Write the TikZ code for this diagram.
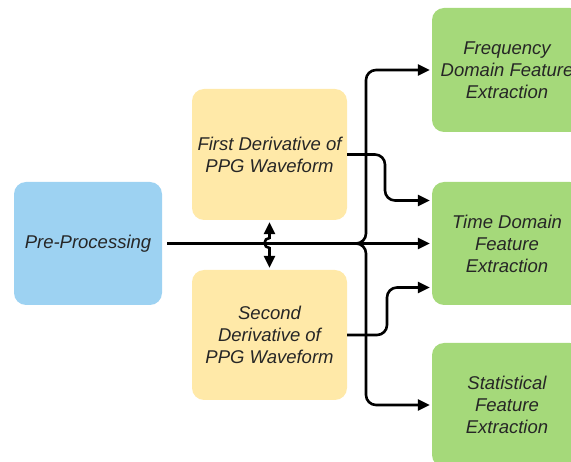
\documentclass[tikz,border=0pt]{standalone}
\usepackage{fontspec}
\setmainfont{Liberation Sans}
\usetikzlibrary{arrows.meta}
\definecolor{preblue}{HTML}{9DD2F2}
\definecolor{derivyellow}{HTML}{FFE9A8}
\definecolor{featgreen}{HTML}{A5D97A}
\begin{document}
\begin{tikzpicture}[x=1pt,y=-1pt,>={Triangle[length=12pt,width=11pt]},
  box/.style={rounded corners=12pt,align=center,inner sep=0pt,text=black!85,
    font=\itshape\fontsize{18.5}{22}\selectfont},
  wire/.style={line width=2.6pt,->,rounded corners=10pt,shorten >=2pt}]
\useasboundingbox (0,0) rectangle (571,462);
\clip (0,0) rectangle (571,462);
% blocks
\node[box,fill=preblue,minimum width=148pt,minimum height=123pt] (pre) at (88,243.5){Pre-Processing};
\node[box,fill=derivyellow,minimum width=155pt,minimum height=131pt] (first) at (269.5,154.5){First Derivative of\\PPG Waveform};
\node[box,fill=derivyellow,minimum width=155pt,minimum height=130pt] (second) at (269.5,335){Second\\Derivative of\\PPG Waveform};
\node[box,fill=featgreen,minimum width=150pt,minimum height=124pt] (freq) at (507,70){Frequency\\Domain Feature\\Extraction};
\node[box,fill=featgreen,minimum width=150pt,minimum height=123pt] (time) at (507,243.5){Time Domain\\Feature\\Extraction};
\node[box,fill=featgreen,minimum width=150pt,minimum height=124pt] (stat) at (507,405){Statistical\\Feature\\Extraction};
% trunk from pre-processing
\coordinate (split) at (366,243.5);
\draw[wire,shorten <=5pt] (pre.east) -- (time.west);
\draw[wire,shorten <=5pt] (pre.east) -- (split) |- (freq.west);
\draw[wire,shorten <=5pt] (pre.east) -- (split) |- (stat.west);
% derivatives into time domain
\draw[wire] (first.east) -- (385,154.5) |- ([yshift=43pt]time.west);
\draw[wire] (second.east) -- (387,335) |- ([yshift=-44pt]time.west);
% link between the derivatives, hopping over the trunk
\draw[line width=2.6pt,<->,shorten <=2pt,shorten >=2pt] (first.south) -- (269.5,238)
  arc[start angle=90,end angle=270,radius=5pt] -- (second.north);
\end{tikzpicture}
\end{document}
